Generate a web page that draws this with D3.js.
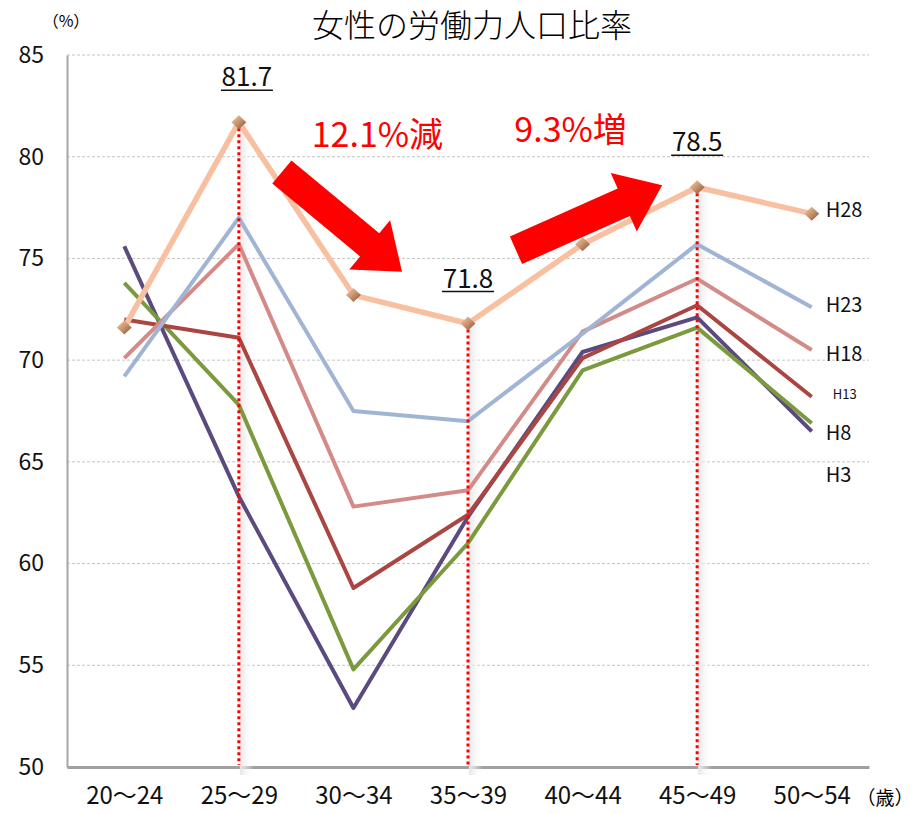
<!DOCTYPE html>
<html>
<head>
<meta charset="utf-8">
<script src="https://cdn.jsdelivr.net/npm/d3@7"></script>
<style>
  body { margin: 0; background: #fff; }
  text { font-family: "Noto Sans CJK JP", "Noto Sans", sans-serif; }
</style>
</head>
<body>
<script>
// Data.
const ages = ["20～24", "25～29", "30～34", "35～39", "40～44", "45～49", "50～54"];
const yTicks = [50, 55, 60, 65, 70, 75, 80, 85];

const seriesNames = ["H3", "H8", "H13", "H18", "H23", "H28"];
const h3  = [75.6, 63.3, 52.9, 62.3, 70.4, 72.1, 66.5];
const h8  = [73.8, 67.8, 54.8, 61.0, 69.5, 71.6, 66.9];
const h13 = [72.0, 71.1, 58.8, 62.4, 70.1, 72.7, 68.2];
const h18 = [70.1, 75.7, 62.8, 63.6, 71.4, 74.0, 70.5];
const h23 = [69.2, 77.0, 67.5, 67.0, 71.3, 75.7, 72.6];
const h28 = [71.6, 81.7, 73.2, 71.8, 75.7, 78.5, 77.2];
const seriesValues = [h3, h8, h13, h18, h23, h28];
const seriesColors = ["#5a4a7e", "#7b9a3e", "#ab4542", "#d38b87", "#a0b4d4", "#f8bfa0"];
const labelValues = [64.35, 66.4, 68.3, 70.3, 72.7, 77.4];

// highlighted points on H28 (index into ages)
const highlightIdx = [1, 3, 5];
const changeLabels = ["12.1%減", "9.3%増"];

const width = 920, height = 813;
const svg = d3.select("body").append("svg")
    .attr("width", width)
    .attr("height", height);

const x = d3.scalePoint().domain(ages).range([67, 869]).padding(0.5);
const y = d3.scaleLinear().domain([50, 85]).range([767, 55]);

const defs = svg.append("defs");
const shade = defs.append("linearGradient").attr("id", "shade");
shade.append("stop").attr("offset", "0%").attr("stop-color", "#e6e6e6");
shade.append("stop").attr("offset", "100%").attr("stop-color", "#ffffff").attr("stop-opacity", 0);
const gem = defs.append("linearGradient").attr("id", "gem")
    .attr("x1", "0%").attr("y1", "0%").attr("x2", "100%").attr("y2", "100%");
gem.append("stop").attr("offset", "0%").attr("stop-color", "#f3cfae");
gem.append("stop").attr("offset", "50%").attr("stop-color", "#c8926c");
gem.append("stop").attr("offset", "100%").attr("stop-color", "#7d5038");

// title and units
svg.append("text")
    .attr("x", 472).attr("y", 37)
    .attr("text-anchor", "middle")
    .attr("font-size", 32)
    .attr("font-weight", 300)
    .text("女性の労働力人口比率");

svg.append("text")
    .attr("x", 66).attr("y", 27)
    .attr("text-anchor", "middle")
    .attr("font-size", 16)
    .text("（%）");

// gridlines
svg.append("g").selectAll("line")
    .data(yTicks.filter(d => d > 50))
    .enter().append("line")
    .attr("x1", 67).attr("x2", 869)
    .attr("y1", d => y(d)).attr("y2", d => y(d))
    .attr("stroke", "#c4c4c4")
    .attr("stroke-width", 1)
    .attr("stroke-dasharray", "3,2");

// y axis
const yAxis = svg.append("g")
    .attr("transform", "translate(67,0)")
    .call(d3.axisLeft(y).tickValues(yTicks).tickSize(0).tickPadding(23));
yAxis.select(".domain").attr("stroke", "#a6a6a6").attr("stroke-width", 2);
yAxis.selectAll("text")
    .attr("font-size", 23)
    .attr("fill", "#111")
    .style("font-family", "\"Noto Sans CJK JP\", sans-serif");

// x axis
const xAxis = svg.append("g")
    .attr("transform", `translate(0,${y(50)})`)
    .call(d3.axisBottom(x).tickSize(0).tickPadding(20));
xAxis.select(".domain").attr("stroke", "#a0a0a0").attr("stroke-width", 3);
xAxis.selectAll("text")
    .attr("font-size", 24)
    .attr("fill", "#111")
    .style("font-family", "\"Noto Sans CJK JP\", sans-serif");

svg.append("text")
    .attr("x", 885).attr("y", 805)
    .attr("text-anchor", "middle")
    .attr("font-size", 19)
    .text("（歳）");

// soft shadow beside the highlight lines
svg.append("g").selectAll("rect")
    .data(highlightIdx)
    .enter().append("rect")
    .attr("x", i => x(ages[i]) + 1)
    .attr("y", i => y(h28[i]))
    .attr("width", 14)
    .attr("height", i => y(50) + 8 - y(h28[i]))
    .attr("fill", "url(#shade)");

// series lines
const line = d3.line()
    .x((d, i) => x(ages[i]))
    .y(d => y(d));

svg.append("g").selectAll("path")
    .data(seriesValues)
    .enter().append("path")
    .attr("d", d => line(d))
    .attr("fill", "none")
    .attr("stroke", (d, i) => seriesColors[i])
    .attr("stroke-width", (d, i) => i === 5 ? 5.5 : 4)
    .attr("stroke-linejoin", "round");

// series labels at the right
svg.append("g").selectAll("text")
    .data(seriesNames)
    .enter().append("text")
    .attr("x", (d, i) => x(ages[6]) + (d === "H13" ? 21 : 14))
    .attr("y", (d, i) => y(labelValues[i]))
    .attr("dy", "0.35em")
    .attr("font-size", d => d === "H13" ? 13 : 20)
    .attr("fill", "#111")
    .text(d => d);

// red dotted drop lines
svg.append("g").selectAll("line")
    .data(highlightIdx)
    .enter().append("line")
    .attr("x1", i => x(ages[i])).attr("x2", i => x(ages[i]))
    .attr("y1", i => y(h28[i])).attr("y2", y(50) - 2)
    .attr("stroke", "#ff0000")
    .attr("stroke-width", 3)
    .attr("stroke-dasharray", "3,3");

// H28 markers
svg.append("g").selectAll("path")
    .data(h28)
    .enter().append("path")
    .attr("transform", (d, i) => `translate(${x(ages[i])},${y(d)})`)
    .attr("d", "M0,-7L7.5,0L0,7L-7.5,0Z")
    .attr("fill", "url(#gem)");

// underlined value labels
const valueOffsets = [8, 0, 0];
const valueLabels = svg.append("g").selectAll("g")
    .data(highlightIdx)
    .enter().append("g")
    .attr("transform", (i, k) => `translate(${x(ages[i]) + valueOffsets[k]},${y(h28[i]) - 36})`);
valueLabels.append("text")
    .attr("text-anchor", "middle")
    .attr("font-size", 26)
    .attr("fill", "#111")
    .text(i => h28[i].toFixed(1));
valueLabels.append("line")
    .attr("x1", -26).attr("x2", 26)
    .attr("y1", 4).attr("y2", 4)
    .attr("stroke", "#111")
    .attr("stroke-width", 1.5);

// block arrows
function arrowPath(x1, y1, x2, y2, shaftW, headW, headL) {
  const dx = x2 - x1, dy = y2 - y1;
  const len = Math.hypot(dx, dy);
  const ux = dx / len, uy = dy / len;
  const nx = -uy, ny = ux;
  const bx = x2 - ux * headL, by = y2 - uy * headL;
  const pts = [
    [x1 + nx * shaftW / 2, y1 + ny * shaftW / 2],
    [bx + nx * shaftW / 2, by + ny * shaftW / 2],
    [bx + nx * headW / 2, by + ny * headW / 2],
    [x2, y2],
    [bx - nx * headW / 2, by - ny * headW / 2],
    [bx - nx * shaftW / 2, by - ny * shaftW / 2],
    [x1 - nx * shaftW / 2, y1 - ny * shaftW / 2]
  ];
  return "M" + pts.map(p => p.join(",")).join("L") + "Z";
}

const arrows = [
  [x(ages[1]) + 43, y(79.25), x(ages[3]) - 66, y(74.35)],
  [x(ages[3]) + 48, y(75.4), x(ages[5]) - 35, y(78.6)]
];
svg.append("g").selectAll("path")
    .data(arrows)
    .enter().append("path")
    .attr("d", a => arrowPath(a[0], a[1], a[2], a[3], 30, 64, 42))
    .attr("fill", "#ff0000");

// change labels
const changePos = [[x(ages[2]) + 24, y(80.5)], [x(ages[4]) - 12, y(80.7)]];
svg.append("g").selectAll("text")
    .data(changeLabels)
    .enter().append("text")
    .attr("x", (d, i) => changePos[i][0])
    .attr("y", (d, i) => changePos[i][1])
    .attr("text-anchor", "middle")
    .attr("font-size", 34)
    .attr("fill", "#ff0000")
    .text(d => d);
</script>
</body>
</html>
